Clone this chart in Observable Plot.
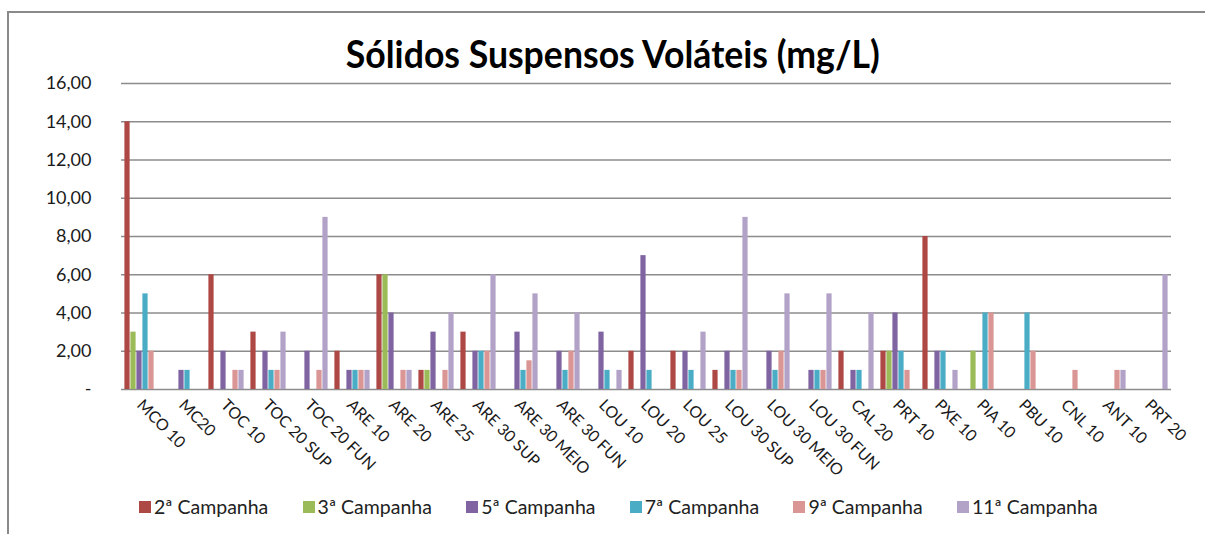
<!DOCTYPE html>
<html>
<head>
<meta charset="utf-8">
<script src="https://cdn.jsdelivr.net/npm/d3@7"></script>
<script src="https://cdn.jsdelivr.net/npm/@observablehq/plot@0.6"></script>
<style>
  html, body { margin: 0; padding: 0; background: #fff; }
  #wrap { position: relative; width: 1205px; height: 534px; overflow: hidden; font-family: Lato, "Open Sans", sans-serif; }
  #frame { position: absolute; left: 7px; top: 11px; width: 1400px; height: 700px; border-top: 2px solid #8a8a8a; border-left: 2px solid #8a8a8a; }
  #title { position: absolute; top: 34px; left: 0; width: 1225px; text-align: center; font-weight: bold; font-size: 38px; line-height: 38px; color: #000; white-space: nowrap; }
  #title span { display: inline-block; transform-origin: center; }
  #chart { position: absolute; left: 0; top: 0; }
  #legend { position: absolute; left: 139px; top: 495px; display: flex; font-size: 19.5px; color: #222; }
  .item { width: 163.6px; display: flex; align-items: center; white-space: nowrap; }
  .sw { width: 12px; height: 12px; margin-right: 3px; flex: none; }
</style>
</head>
<body>
<div id="wrap">
  <div id="frame"></div>
  <div id="title"><span id="tt">Sólidos Suspensos Voláteis (mg/L)</span></div>
  <div id="chart"></div>
  <div id="legend"></div>
</div>
<script>
const categories = ["MCO 10","MC20","TOC 10","TOC 20 SUP","TOC 20 FUN","ARE 10","ARE 20","ARE 25","ARE 30 SUP","ARE 30 MEIO","ARE 30 FUN","LOU 10","LOU 20","LOU 25","LOU 30 SUP","LOU 30 MEIO","LOU 30 FUN","CAL 20","PRT 10","PXE 10","PIA 10","PBU 10","CNL 10","ANT 10","PRT 20"];
const series = ["2ª Campanha","3ª Campanha","5ª Campanha","7ª Campanha","9ª Campanha","11ª Campanha"];
const colors = ["#AD4845","#9BBB59","#8064A2","#4BACC6","#DA9694","#B3A2C7"];
const camp2  = [14,0,6,3,0,2,6,1,3,0,0,0,2,2,1,0,0,2,2,8,0,0,0,0,0];
const camp3  = [3,0,0,0,0,0,6,1,0,0,0,0,0,0,0,0,0,0,2,0,2,0,0,0,0];
const camp5  = [2,1,2,2,2,1,4,3,2,3,2,3,7,2,2,2,1,1,4,2,0,0,0,0,0];
const camp7  = [5,1,0,1,0,1,0,0,2,1,1,1,1,1,1,1,1,1,2,2,4,4,0,0,0];
const camp9  = [2,0,1,1,1,1,1,1,2,1.5,2,0,0,0,1,2,1,0,1,0,4,2,1,1,0];
const camp11 = [0,0,1,3,9,1,1,4,6,5,4,1,0,3,9,5,5,4,0,1,0,0,0,1,6];
const yTicks = [0,2,4,6,8,10,12,14,16];

const values = [camp2, camp3, camp5, camp7, camp9, camp11];
const data = [];
categories.forEach((c, i) => series.forEach((s, j) => {
  const v = values[j][i];
  if (v > 0) data.push({category: c, series: s, value: v});
}));

const fmt = d => d === 0 ? "-" : d.toFixed(2).replace(".", ",");

const chart = Plot.plot({
  width: 1205, height: 480,
  marginLeft: 117, marginRight: 30, marginTop: 83, marginBottom: 91,
  style: {fontFamily: "Lato, 'Open Sans', sans-serif", background: "transparent", color: "#1a1a1a"},
  fx: {domain: categories, padding: 0, label: null},
  x: {domain: series, axis: null, paddingInner: 0, paddingOuter: 0.34},
  y: {domain: [0, 16], label: null},
  color: {domain: series, range: colors},
  marks: [
    Plot.gridY(yTicks.filter(d => d > 0), {stroke: "#8c8c8c", strokeOpacity: 1, strokeWidth: 1.3}),
    Plot.ruleY([0], {stroke: "#8c8c8c", strokeWidth: 1.5}),
    Plot.barY(data, {fx: "category", x: "series", y: "value", fill: "series", insetLeft: 0.4, insetRight: 0.4}),
    Plot.axisY({ticks: yTicks, tickFormat: fmt, tickSize: 0, tickPadding: 30, fontSize: 18, label: null}),
    Plot.axisFx({anchor: "bottom", tickRotate: 45, tickSize: 0, tickPadding: 13, dx: -3, fontSize: 16, label: null})
  ]
});
document.getElementById("chart").appendChild(chart);

const legend = document.getElementById("legend");
series.forEach((s, j) => {
  const it = document.createElement("div");
  it.className = "item";
  const sw = document.createElement("div");
  sw.className = "sw";
  sw.style.background = colors[j];
  const tx = document.createElement("span");
  tx.textContent = s;
  it.appendChild(sw); it.appendChild(tx);
  legend.appendChild(it);
});

const tt = document.getElementById("tt");
const w = tt.getBoundingClientRect().width;
tt.style.transform = `scaleX(${534 / w})`;
</script>
</body>
</html>
